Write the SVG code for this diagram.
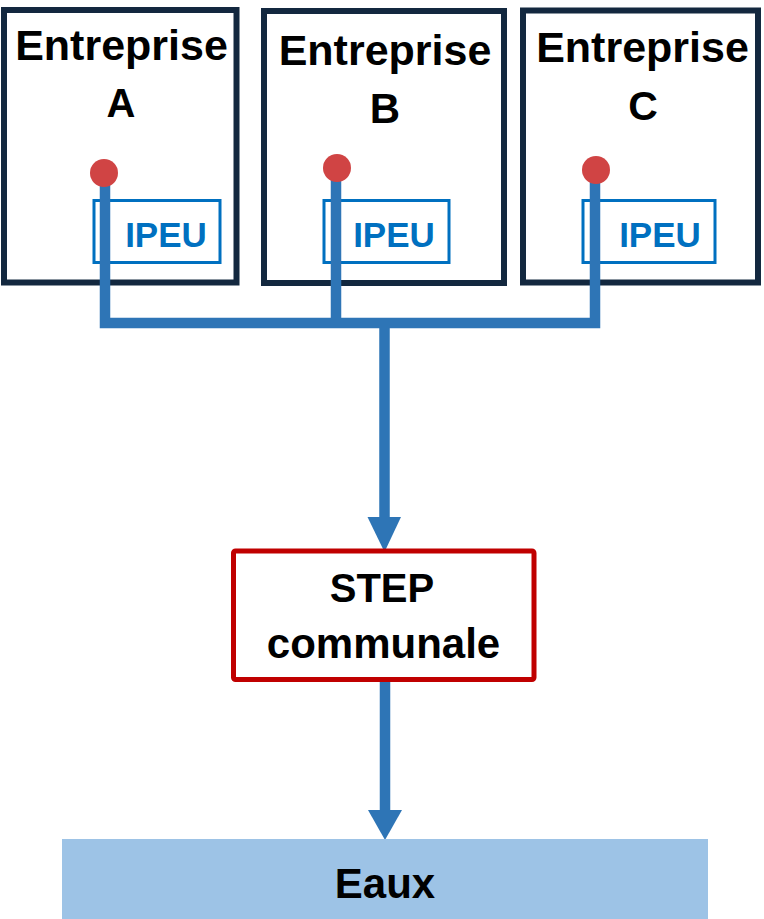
<svg xmlns="http://www.w3.org/2000/svg" width="764" height="919" viewBox="0 0 764 919">
<style>
.ent{fill:#fff;stroke:#13283f;stroke-width:6}
.ipeu{fill:#fff;stroke:#0070c0;stroke-width:3}
.t{font-family:"Liberation Sans",Arial,sans-serif;font-weight:bold;text-anchor:middle;fill:#000}
.ti{font-family:"Liberation Sans",Arial,sans-serif;font-weight:bold;text-anchor:middle;fill:#0070c0;font-size:35px}
.pipe{fill:none;stroke:#2e75b6;stroke-width:10.5}
.dot{fill:#d04444}
.head{fill:#2e75b6}
</style>
<rect width="764" height="919" fill="#fff"/>
<g id="entreprise-a">
<rect class="ent" x="4" y="10" width="232.5" height="272.5"/>
<text class="t" x="121.5" y="60" font-size="43">Entreprise</text>
<text class="t" x="121" y="117" font-size="40">A</text>
<rect class="ipeu" x="94" y="200.5" width="126" height="62"/>
<text class="ti" x="166" y="246.5">IPEU</text>
</g>
<g id="entreprise-b">
<rect class="ent" x="264" y="11" width="240" height="272"/>
<text class="t" x="385" y="65" font-size="43">Entreprise</text>
<text class="t" x="385" y="123" font-size="42">B</text>
<rect class="ipeu" x="324" y="200.5" width="125" height="62"/>
<text class="ti" x="394" y="246.5">IPEU</text>
</g>
<g id="entreprise-c">
<rect class="ent" x="523" y="10.5" width="235" height="272"/>
<text class="t" x="642.5" y="62" font-size="43">Entreprise</text>
<text class="t" x="643" y="120" font-size="41">C</text>
<rect class="ipeu" x="583" y="200.5" width="132" height="62"/>
<text class="ti" x="660" y="246.5">IPEU</text>
</g>
<g id="connectors">
<path class="pipe" d="M105 180V323H595V180M336 175V323M384.5 323V518"/>
<polygon class="head" points="367.5,517 401,517 384.5,552"/>
<path class="pipe" d="M385 682V811" stroke-width="11"/>
<polygon class="head" points="368,810 402,810 385,840"/>
<circle class="dot" cx="104" cy="173" r="14"/>
<circle class="dot" cx="337" cy="168" r="14"/>
<circle class="dot" cx="596" cy="170" r="14"/>
</g>
<g id="step">
<rect x="233.5" y="551" width="300.5" height="128.5" rx="2" fill="#fff" stroke="#c00000" stroke-width="5"/>
<text class="t" x="382" y="602" font-size="40">STEP</text>
<text class="t" x="383.5" y="658" font-size="42">communale</text>
</g>
<g id="eaux">
<rect x="62" y="839" width="646" height="80" fill="#9dc3e6"/>
<text class="t" x="385" y="898" font-size="42">Eaux</text>
</g>
</svg>
